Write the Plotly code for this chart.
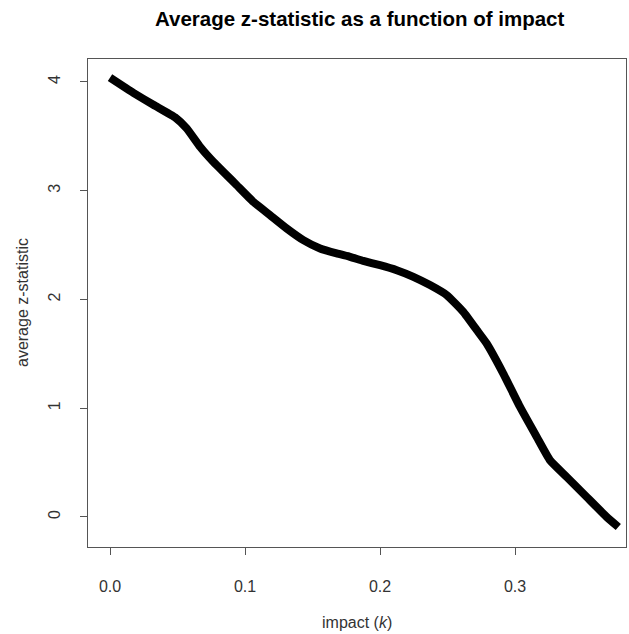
import plotly.graph_objects as go

impact = [0.0, 0.0173, 0.0321, 0.0481, 0.0568, 0.0667, 0.0765, 0.0864, 0.0939, 0.1061,
          0.1185, 0.1309, 0.1432, 0.1556, 0.1679, 0.1778, 0.1876, 0.2, 0.2124, 0.2247,
          0.237, 0.2494, 0.2617, 0.2716, 0.279, 0.2913, 0.3037, 0.3161, 0.3259, 0.3383,
          0.3531, 0.3679, 0.3765]
avg_z = [4.04, 3.90, 3.79, 3.675, 3.573, 3.404, 3.266, 3.144, 3.05, 2.898,
         2.776, 2.653, 2.546, 2.469, 2.423, 2.392, 2.355, 2.315, 2.269, 2.208,
         2.132, 2.040, 1.886, 1.72, 1.595, 1.319, 1.012, 0.736, 0.522, 0.368,
         0.184, 0.0, -0.092]

x_ticks = [0.0, 0.1, 0.2, 0.3]
x_tick_labels = ["0.0", "0.1", "0.2", "0.3"]
y_ticks = [0, 1, 2, 3, 4]
y_tick_labels = ["0", "1", "2", "3", "4"]

FONT = "Liberation Sans, Arial, sans-serif"

fig = go.Figure()
fig.add_trace(go.Scatter(x=impact, y=avg_z, mode="lines",
                         line=dict(color="black", width=8, shape="spline", smoothing=0.4),
                         hoverinfo="skip"))

W, H = 629, 634
L, R, T, B = 88, 3, 59, 87

axis_common = dict(showline=True, mirror=True, linecolor="#555", linewidth=1,
                   ticks="outside", ticklen=7, tickcolor="#555", tickwidth=1,
                   showgrid=False, zeroline=False,
                   tickfont=dict(family=FONT, size=16, color="#333"))

fig.update_layout(
    width=W, height=H,
    margin=dict(l=L, r=R, t=T, b=B),
    paper_bgcolor="white", plot_bgcolor="white",
    showlegend=False,
    xaxis=dict(range=[-0.0163, 0.3822], tickvals=x_ticks, ticktext=x_tick_labels,
               ticklabelstandoff=18, **axis_common),
    yaxis=dict(range=[-0.276, 4.211], tickvals=y_ticks, ticktext=y_tick_labels,
               tickangle=-90, ticklabelstandoff=14, **axis_common),
    annotations=[
        dict(text="<b>Average z-statistic as a function of impact</b>", xref="paper", yref="paper",
             x=0.5, y=1, xshift=3, yshift=59 - 18, xanchor="center", yanchor="middle", showarrow=False,
             font=dict(family=FONT, size=20.5, color="black")),
        dict(text="impact (<i>k</i>)", xref="paper", yref="paper", x=0.5, y=0,
             yshift=-75, xanchor="center", yanchor="middle", showarrow=False,
             font=dict(family=FONT, size=16, color="#333")),
        dict(text="average z-statistic", xref="paper", yref="paper", x=0, y=0.5,
             xshift=-66, xanchor="center", yanchor="middle", textangle=-90, showarrow=False,
             font=dict(family=FONT, size=16, color="#333")),
    ],
)

fig.write_html("out.html", config={"displayModeBar": False},
               post_script="document.body.style.margin='0';document.body.style.overflow='hidden';")
